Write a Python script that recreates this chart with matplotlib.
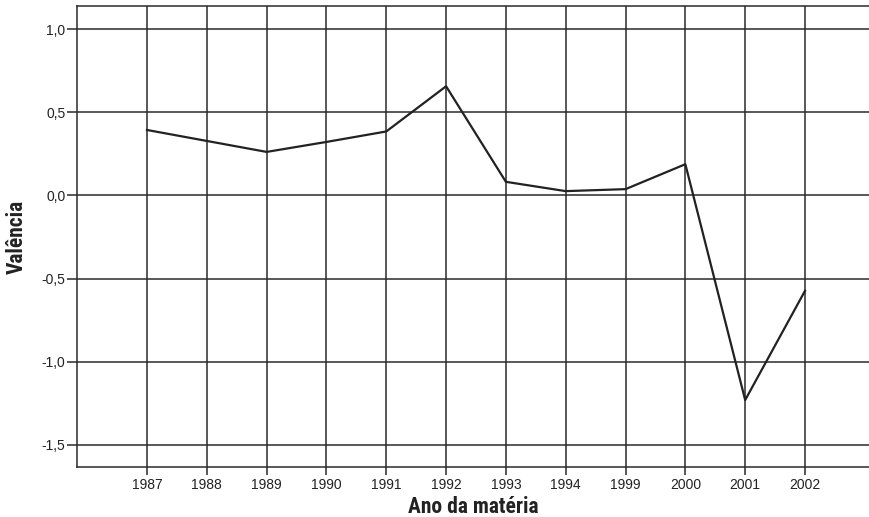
import matplotlib

matplotlib.use("Agg")

import matplotlib.pyplot as plt
from matplotlib import font_manager

INK = "#222222"
GRID = "#2a2a2a"

anos = ["1987", "1988", "1989", "1990", "1991", "1992",
        "1993", "1994", "1999", "2000", "2001", "2002"]
valencia = [0.394, 0.328, 0.262, 0.322, 0.385, 0.657,
            0.082, 0.026, 0.038, 0.188, -1.231, -0.574]
y_ticks = [-1.5, -1.0, -0.5, 0.0, 0.5, 1.0]
y_tick_labels = ["-1,5", "-1,0", "-0,5", "0,0", "0,5", "1,0"]

names = {f.name for f in font_manager.fontManager.ttflist}
label_font = [n for n in ["Roboto Condensed", "Liberation Sans Narrow", "Roboto"] if n in names]
label_font = label_font + ["DejaVu Sans"]

fig = plt.figure(figsize=(8.69, 5.17), dpi=100)
ax = fig.add_axes([77 / 869, 50 / 517, 1 - 77 / 869, 461 / 517])

x = list(range(len(anos)))
ax.plot(x, valencia, color=INK, linewidth=1.6, zorder=3)

ax.set_xlim(-1.17, 12.07)
ax.set_ylim(-1.634, 1.14)
ax.set_xticks(x, labels=anos)
ax.set_yticks(y_ticks, labels=y_tick_labels)
ax.grid(True, color=GRID, linewidth=1.1)
ax.set_axisbelow(True)

ax.tick_params(axis="both", colors=GRID, labelcolor=INK, labelsize=10,
               width=1.1, direction="out")
for lab in ax.get_xticklabels() + ax.get_yticklabels():
    lab.set_family(["Liberation Sans", "DejaVu Sans"])
ax.tick_params(axis="x", length=5.8, pad=2)
ax.tick_params(axis="y", length=7.2, pad=1)

for side in ["left", "bottom", "top"]:
    ax.spines[side].set_color(GRID)
    ax.spines[side].set_linewidth(1.1)
ax.spines["right"].set_visible(False)

ax.set_xlabel("Ano da matéria", family=label_font, fontweight="bold",
              fontsize=15.5, color=INK, labelpad=3)
ax.set_ylabel("Valência", family=label_font, fontweight="bold",
              fontsize=15.5, color=INK, labelpad=10)

fig.savefig("out.png", dpi=100, facecolor="white")
